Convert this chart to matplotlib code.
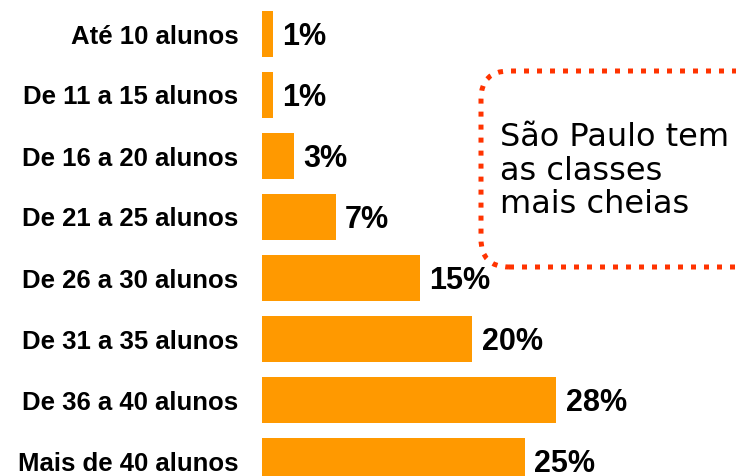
import matplotlib.pyplot as plt
from matplotlib.patches import FancyBboxPatch

faixas = ["Até 10 alunos", "De 11 a 15 alunos", "De 16 a 20 alunos", "De 21 a 25 alunos",
          "De 26 a 30 alunos", "De 31 a 35 alunos", "De 36 a 40 alunos", "Mais de 40 alunos"]
percentuais = [1, 1, 3, 7, 15, 20, 28, 25]
rotulos = ["1%", "1%", "3%", "7%", "15%", "20%", "28%", "25%"]
destaque = "São Paulo tem\nas classes\nmais cheias"

plt.rcParams['font.family'] = ['Liberation Sans', 'DejaVu Sans']

W, H = 736, 476
fig = plt.figure(figsize=(W / 100, H / 100), dpi=100)
fig.patch.set_facecolor("white")

# eixo começa em x=262px e vai até a borda direita
ax = fig.add_axes([262 / W, 0, 1 - 262 / W, 1])
px_por_pct = 10.5
ax.set_xlim(0, (W - 262) / px_por_pct)
ax.set_ylim((H - 34) / 61, -34 / 61)

pos = list(range(len(faixas)))
ax.barh(pos, percentuais, height=0.74, color="#FF9900")

for i, (v, r) in enumerate(zip(percentuais, rotulos)):
    ax.annotate(r, (v, i), xytext=(7, -2.5), textcoords="offset points",
                va="center", ha="left", fontsize=22, fontweight="bold")

ax.set_yticks(pos)
ax.set_yticklabels(faixas, fontsize=18.5, fontweight="bold")
ax.tick_params(axis="y", length=0, pad=17)
ax.set_xticks([])
for s in ax.spines.values():
    s.set_visible(False)
ax.patch.set_alpha(0)

# caixa pontilhada com o destaque
caixa = FancyBboxPatch((481, H - 267), 290, 196, boxstyle="round,pad=0,rounding_size=28",
                       transform=None, fill=False, edgecolor="#FF3300", linewidth=3.6,
                       linestyle=(0, (1, 1.6)), clip_on=False)
fig.patches.append(caixa)
fig.text(500 / W, 1 - 171 / H, destaque, fontsize=23, family="DejaVu Sans",
         va="center", ha="left", linespacing=1.12)

fig.savefig("out.png", dpi=100)
